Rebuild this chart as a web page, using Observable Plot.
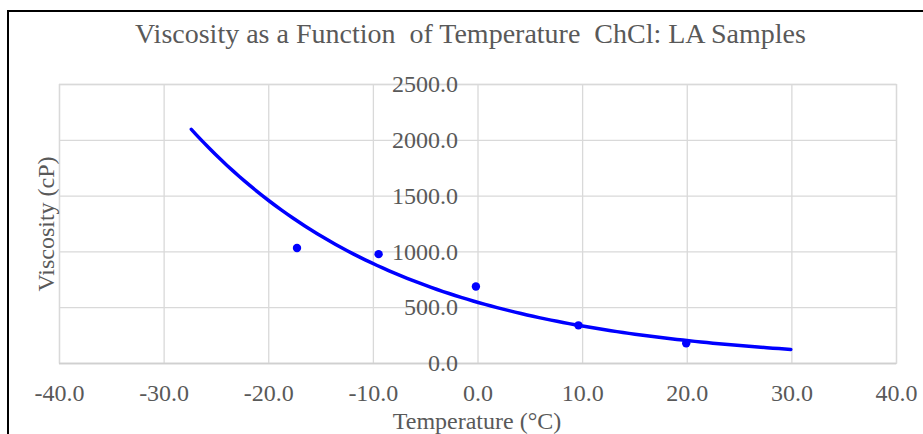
<!DOCTYPE html>
<html>
<head>
<meta charset="utf-8">
<script src="https://cdn.jsdelivr.net/npm/d3@7"></script>
<script src="https://cdn.jsdelivr.net/npm/@observablehq/plot@0.6"></script>
<style>
  html, body { margin: 0; padding: 0; background: #fff; }
  #wrap { position: relative; width: 923px; height: 434px; overflow: hidden; }
  #border { position: absolute; left: 7px; top: 10px; right: -5px; bottom: -5px;
            border-left: 2px solid #000; border-top: 2px solid #000; pointer-events: none; }
</style>
</head>
<body>
<div id="wrap"><div id="border"></div></div>
<script>
// Data
const temperature = [-17.3, -9.5, -0.2, 9.6, 19.9];      // °C
const viscosity   = [1035, 980, 690, 342, 182];           // cP
const xTicks = [-40, -30, -20, -10, 0, 10, 20, 30, 40];
const yTicks = [0, 500, 1000, 1500, 2000, 2500];
const trendStart = -27.4, trendEnd = 29.9;                // extent of the exponential trendline
const title = "Viscosity as a Function  of Temperature  ChCl: LA Samples";
const xLabel = "Temperature (°C)";
const yLabel = "Viscosity (cP)";

const points = temperature.map((t, i) => ({t, v: viscosity[i]}));

// Exponential trendline (least squares on ln y), like a spreadsheet trendline
const mx = d3.mean(temperature), my = d3.mean(viscosity, v => Math.log(v));
const b = d3.sum(points, p => (p.t - mx) * (Math.log(p.v) - my)) / d3.sum(points, p => (p.t - mx) ** 2);
const a = Math.exp(my - b * mx);
const trend = d3.range(0, 101).map(i => {
  const t = trendStart + (trendEnd - trendStart) * i / 100;
  return {t, v: a * Math.exp(b * t)};
});

const fmt = d => d.toFixed(1);
const txt = "#595959", grid = "#d9d9d9";

const chart = Plot.plot({
  width: 923, height: 434,
  marginLeft: 59, marginRight: 27, marginTop: 84, marginBottom: 71,
  style: {fontFamily: "'Liberation Serif', 'Times New Roman', serif", background: "transparent", overflow: "visible"},
  x: {domain: [-40, 40], axis: null},
  y: {domain: [0, 2500], axis: null},
  marks: [
    Plot.gridX(xTicks, {stroke: grid, strokeOpacity: 1, strokeWidth: 1.3}),
    Plot.gridY(yTicks, {stroke: grid, strokeOpacity: 1, strokeWidth: 1.3}),
    Plot.frame({stroke: grid, strokeWidth: 1.3}),
    Plot.ruleY([0], {stroke: "#d0d0d0", strokeWidth: 1.5}),
    Plot.text(yTicks, {x: 0, y: d => d, text: fmt, textAnchor: "end", lineAnchor: "middle", dx: -20, fontSize: 24, fill: txt}),
    Plot.text(xTicks, {x: d => d, text: fmt, frameAnchor: "bottom", lineAnchor: "middle", dy: 29.5, fontSize: 24, fill: txt}),
    Plot.line(trend, {x: "t", y: "v", stroke: "#0000ff", strokeWidth: 3.5, curve: "linear"}),
    Plot.dot(points, {x: "t", y: "v", r: 4.2, fill: "#0000ff", stroke: "none"}),
    Plot.text([title], {text: d => d, frameAnchor: "top", lineAnchor: "middle", textAnchor: "middle", dy: -50.5, dx: -7.5, fontSize: 28, fill: txt}),
    Plot.text([xLabel], {text: d => d, frameAnchor: "bottom", lineAnchor: "middle", textAnchor: "middle", dy: 57.5, dx: -1, fontSize: 24, fill: txt}),
    Plot.text([yLabel], {text: d => d, frameAnchor: "left", lineAnchor: "middle", textAnchor: "middle", dx: -13, rotate: -90, fontSize: 24, fill: txt})
  ]
});
document.getElementById("wrap").prepend(chart);
</script>
</body>
</html>
